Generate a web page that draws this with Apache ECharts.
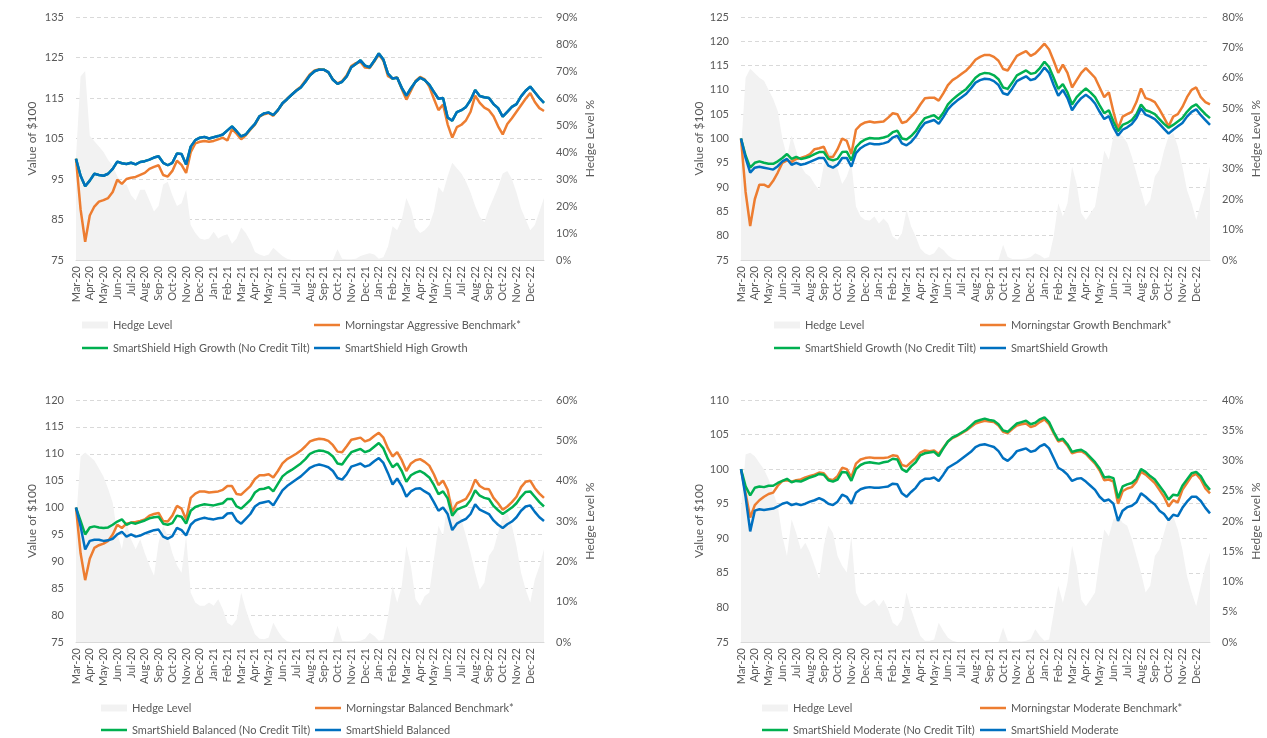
<!DOCTYPE html>
<html>
<head>
<meta charset="utf-8">
<script src="https://cdn.jsdelivr.net/npm/echarts@6/dist/echarts.min.js"></script>
<style>
  html, body { margin: 0; padding: 0; background: #fff; }
  #chart { width: 1267px; height: 738px; }
</style>
</head>
<body>
<div id="chart"></div>
<script>
// month tick labels, three readings per month (1st, 11th, 21st) plus the last day
const months = ['Mar-20','Apr-20','May-20','Jun-20','Jul-20','Aug-20','Sep-20','Oct-20','Nov-20','Dec-20',
  'Jan-21','Feb-21','Mar-21','Apr-21','May-21','Jun-21','Jul-21','Aug-21','Sep-21','Oct-21','Nov-21','Dec-21',
  'Jan-22','Feb-22','Mar-22','Apr-22','May-22','Jun-22','Jul-22','Aug-22','Sep-22','Oct-22','Nov-22','Dec-22'];
const categories = [];
months.forEach(m => categories.push(m, m + ' (2)', m + ' (3)'));
categories.push('end');

// ---- High Growth ----
const hgHedge = [38,68,70,46,44,42,40,37,35,31, 28,28,24,22,26,26,22,18,20,28,
  29,24,20,21,26,13,10,8,7.5,8, 10.5,8,9,9.5,6,8,12,10,7,3,
  2,1.5,2,4.5,3,1.5,0.5,0,0,0, 0,0,0,0,0,0,0,4,0.5,0.3,
  0.3,0.5,1.5,2,2.5,2,0.5,1,5,12.5, 11,15,23,19,12,10,11,13,18,27,
  25,31,36,34,32,29,25,20,16,14, 19,23,27,32,33,30,25,19,15,11, 13,18,23];
const hgBench = [100,87.5,79.5,86.0,88.2,89.4,89.8,90.3,91.8,94.8, 93.8,95.0,95.3,95.5,96.0,96.5,97.5,98.0,98.4,96.0,
  95.6,97.0,99.5,98.5,96.5,101.6,103.8,104.2,104.4,104.2, 104.4,104.8,105.2,104.5,107.3,106.2,104.8,105.8,107.2,108.4,
  110.4,111.0,111.3,110.6,112.0,113.6,114.8,115.8,116.9,117.8, 119.3,120.9,121.8,122.1,122.0,121.3,119.6,118.6,119.2,120.6,
  122.9,123.6,123.9,122.5,122.4,124.0,125.8,124.2,120.4,119.8, 120.1,117.2,114.6,116.8,119.2,120.2,119.6,117.8,114.8,112.0,
  113.4,108.5,105.2,107.8,108.4,109.5,111.6,115.6,113.8,112.6, 112.0,110.5,108.0,106.0,108.6,110.0,111.6,113.2,114.8,116.2,
  114.0,112.5,111.8];
const hgSmart = [100,95.8,93.2,94.6,96.3,96.0,95.8,96.3,97.5,99.3, 98.9,98.7,99.0,98.6,99.2,99.4,99.8,100.3,100.6,99.0,
  98.4,99.0,101.3,101.2,98.6,103.0,104.6,105.2,105.4,105.0, 105.3,105.6,106.0,107.0,108.0,106.8,105.5,106.0,107.4,108.6,
  110.5,111.2,111.4,110.8,112.0,113.7,114.7,115.8,116.8,117.6, 119.0,120.6,121.6,122.0,122.0,121.4,119.5,118.5,119.0,120.3,
  122.6,123.4,124.3,123.0,122.6,124.2,126.0,124.5,121.0,119.8, 120.0,117.5,115.6,117.4,119.0,120.0,119.4,118.3,116.5,114.8,
  115.0,110.2,109.4,111.5,112.0,112.8,114.5,117.0,115.5,115.2, 115.0,113.5,112.5,110.4,111.6,112.8,113.5,115.4,116.8,117.8,
  116.4,115.0,113.8];
const hgNoTilt = hgSmart; // hidden under the SmartShield line in the original

// ---- Growth ----
const grHedge = [36,60,63,61.5,60,59,56,53,49,40, 34,41,36,31,28.6,27.5,25,23,31,36,
  35,30,25,27.5,32,17.6,14.3,13.2,13,14.3, 12,13.7,12,7.7,6.6,8.8,16.5,11,7.7,3.8,
  2.2,1.6,2.2,4.4,3.3,1.6,0.5,0,0,0, 0,0,0,0,0,0,0,5,1,0.3,
  0.3,0.3,0.5,1,2.2,1.6,0.5,1,7.7,18.7, 14.3,18.7,30.8,25,15.4,13.2,15.4,17.6,26.4,36,
  33,40.7,41.8,40.7,38.5,34,28.6,23,17.6,19.8, 27.5,29.7,36,40.7,41.8,37.4,30.8,23,18.7,13.2, 18.7,24,30.8];
const grBench = [100,89.0,82.0,87.5,90.5,90.5,90.0,91.3,93.0,95.0, 95.5,95.2,95.8,96.0,96.3,96.8,97.8,98.0,98.3,96.2,
  96.2,97.8,100.0,99.5,96.8,101.8,102.8,103.3,103.5,103.3, 103.4,103.5,104.3,105.2,105.0,103.2,103.5,104.5,105.5,107.0,
  108.3,108.4,108.4,107.8,109.3,111.0,112.0,112.6,113.3,114.0, 115.0,116.2,116.8,117.2,117.2,116.8,116.0,114.3,114.0,115.5,
  117.0,117.5,118.0,117.0,117.5,118.5,119.5,118.3,116.0,113.5, 115.2,113.5,110.5,112.0,113.5,114.5,113.5,112.5,110.5,108.5,
  109.5,105.5,102.0,104.5,105.0,105.5,107.5,110.3,108.3,108.0, 107.5,106.0,104.3,102.5,104.5,105.0,106.5,108.5,110.0,110.5,
  108.5,107.5,107.0];
const grNoTilt = [100,96.5,94.0,95.0,95.3,95.0,94.8,94.8,95.3,96.0, 96.8,95.8,96.2,95.8,96.0,96.3,96.8,97.2,97.2,95.8,
  95.5,95.8,97.2,97.3,95.5,98.2,99.2,99.8,100.1,100.0, 100.0,100.2,100.5,101.3,101.6,100.0,99.8,100.5,101.5,103.0,
  104.2,104.5,104.8,104.0,105.3,107.0,108.0,108.8,109.5,110.2, 111.3,112.5,113.2,113.5,113.4,113.0,112.2,110.5,110.2,111.5,
  113.0,113.5,114.0,113.3,113.5,114.5,115.8,114.7,112.5,110.2, 111.2,109.5,107.0,108.5,109.5,110.3,109.5,108.5,106.8,105.2,
  105.8,103.5,101.5,102.8,103.2,103.8,105.0,107.0,105.8,105.5, 105.0,104.0,103.0,102.2,102.8,103.5,104.2,105.5,106.5,107.0,
  106.0,105.0,104.2];
const grSmart = [100,96.0,93.0,94.0,94.2,94.0,93.8,93.6,94.3,95.3, 95.8,94.6,95.0,94.6,94.8,95.2,95.6,96.0,96.0,94.4,
  94.0,94.6,96.0,96.0,94.2,97.0,98.0,98.6,99.0,98.8, 98.8,99.0,99.3,100.2,100.6,99.0,98.6,99.3,100.4,102.0,
  103.2,103.5,103.8,103.0,104.4,106.0,107.0,107.8,108.5,109.2, 110.3,111.5,112.0,112.3,112.2,111.8,111.0,109.3,109.0,110.3,
  111.8,112.3,112.8,112.0,112.3,113.3,114.6,113.5,111.0,108.8, 110.0,108.3,105.8,107.2,108.3,109.0,108.3,107.2,105.5,104.0,
  104.6,102.3,100.6,101.8,102.3,103.0,104.2,106.2,104.9,104.5, 104.0,103.0,102.0,101.0,101.8,102.5,103.2,104.5,105.5,106.0,
  104.8,103.8,102.8];

// ---- Balanced ----
const baHedge = [30,46,47,46,45,43,41,38,34.5,27, 23,29.6,25.5,23,25.5,22,19,16.4,24.6,28.8,
  26.3,22,19,17.2,26.3,12.2,9.8,9,9,9.8, 9,10.6,8.1,4.8,4,5.6,12.2,8.1,4.8,1.9,
  0.8,0.7,1.1,4.8,2.7,1.1,0.2,0,0,0, 0,0,0,0,0,0,0,4,0.3,0.2,
  0.2,0.2,0.3,0.8,2.3,1.5,0.3,0.6,6.4,13.9, 9.8,13.9,23.8,18.8,10.6,9,11.4,12.2,20.5,28.8,
  26.3,35.4,35.4,32.9,30.4,26.3,22,17.2,13,14.7, 21.3,23,27,31.2,32,28.8,23.8,17.2,13,9.8, 15.5,18.8,23];
const baBench = [100,91.5,86.5,90.5,92.5,93.0,93.3,93.8,95.0,96.8, 96.2,97.0,97.2,97.3,97.5,97.8,98.5,98.8,99.0,97.5,
  97.4,98.5,100.3,99.8,97.8,101.8,102.6,103.0,103.0,102.8, 102.9,103.0,103.3,104.0,104.0,102.5,102.4,103.2,104.0,105.3,
  106.0,106.0,106.2,105.6,106.8,108.2,109.0,109.5,110.0,110.6, 111.4,112.3,112.6,112.8,112.7,112.4,111.6,110.4,110.3,111.4,
  112.6,112.8,113.0,112.3,112.6,113.3,113.9,113.0,111.0,109.5, 110.3,108.8,106.8,108.2,108.8,109.0,108.5,107.8,106.2,104.2,
  105.0,103.3,99.2,100.8,101.2,101.6,103.0,105.2,104.0,103.5, 103.4,101.8,100.8,99.6,100.2,101.0,102.0,103.8,104.8,105.0,
  103.6,102.6,101.8];
const baNoTilt = [100,97.5,95.0,96.3,96.5,96.3,96.2,96.3,96.8,97.4, 97.8,96.8,97.2,97.0,97.3,97.6,98.0,98.2,98.3,97.0,
  96.8,97.1,98.5,98.3,97.0,99.4,100.1,100.4,100.6,100.5, 100.4,100.6,100.8,101.6,101.6,100.2,99.8,100.6,101.4,102.8,
  103.4,103.5,103.8,103.0,104.4,105.8,106.5,107.0,107.6,108.2, 109.0,110.0,110.4,110.6,110.5,110.2,109.5,108.2,108.0,109.2,
  110.3,110.6,110.9,110.3,110.6,111.3,112.0,111.0,109.0,107.5, 108.2,106.8,104.8,106.0,106.5,106.8,106.3,105.6,104.2,102.5,
  103.0,101.7,98.5,99.6,100.0,100.3,101.4,103.2,102.2,101.8, 101.6,100.3,99.5,98.8,99.4,100.0,100.8,102.0,102.9,103.0,
  102.0,101.0,100.2];
const baSmart = [100,96.5,92.2,93.8,94.0,94.0,93.8,93.9,94.2,95.0, 95.5,94.6,95.0,94.6,94.8,95.2,95.5,95.8,95.9,94.6,
  94.2,94.7,96.2,95.8,94.8,96.8,97.6,97.9,98.1,97.9, 97.8,98.0,98.1,98.9,99.0,97.6,97.0,97.9,98.8,100.2,
  100.8,101.0,101.2,100.4,101.8,103.2,104.0,104.6,105.2,105.8, 106.6,107.4,107.8,108.0,107.8,107.5,106.8,105.5,105.2,106.2,
  107.6,107.9,108.2,107.6,107.9,108.6,109.2,108.3,106.4,104.3, 105.4,104.0,102.0,103.0,103.5,103.6,103.0,102.5,101.0,99.4,
  100.0,98.8,95.8,97.0,97.5,97.9,98.8,100.6,99.6,99.2, 98.8,97.6,96.8,96.2,96.9,97.4,98.2,99.4,100.2,100.4,
  99.2,98.2,97.5];

// ---- Moderate ----
const moHedge = [22,31,31.3,30.7,29.6,28.5,26.9,24.7,22.5,17.5, 14.2,20.3,18,15.3,16.4,14.8,12.6,10.4,15.9,19.2,
  18,14.2,12.6,11.5,17.5,8.2,6.5,5.9,6.5,7, 5.9,7,5.4,3.2,2.6,3.7,8.2,5.4,3.2,1,
  0.2,0.2,0.4,3.2,1.8,0.7,0.2,0,0,0, 0,0,0,0,0,0,0,2.4,0.2,0.1,
  0.1,0.1,0.2,0.5,2.1,1,0.2,0.4,4.8,9.3, 6.5,9.8,15.9,12.6,7,5.9,7,8.2,13.7,18.6,
  17.5,20.3,20.8,19.7,19.2,17,14.2,11.5,8.2,9.3, 14.2,15.3,18,20.6,20.8,18.6,15.3,10.9,8.2,5.9, 9.3,12.6,14.8];
const moBench = [100,96.5,93.0,94.8,95.5,96.0,96.4,96.6,97.6,98.3, 98.4,98.2,98.4,98.5,98.8,99.0,99.2,99.5,99.4,98.6,
  98.4,99.0,100.2,100.0,98.8,100.8,101.4,101.6,101.7,101.6, 101.6,101.6,101.7,102.0,101.9,100.6,100.4,101.0,101.6,102.4,
  102.7,102.6,102.7,102.2,103.1,104.0,104.5,104.8,105.2,105.6, 106.1,106.6,106.8,107.0,106.9,106.8,106.3,105.4,105.2,105.8,
  106.3,106.5,106.6,106.1,106.3,106.8,107.2,106.5,105.2,104.0, 104.2,103.4,102.3,102.5,102.6,102.2,101.5,100.8,99.8,98.4,
  98.5,98.2,95.0,96.8,97.2,97.4,98.2,99.6,99.2,98.6, 98.0,97.0,96.0,94.6,95.5,95.2,97.0,98.0,99.0,99.3,
  98.5,97.2,96.5];
const moNoTilt = [100,97.5,96.2,97.3,97.5,97.4,97.6,97.6,98.0,98.3, 98.6,98.1,98.3,98.2,98.5,98.8,99.0,99.3,99.2,98.4,
  98.2,98.5,99.6,99.5,98.3,100.0,100.6,100.9,101.0,100.9, 100.8,101.0,101.1,101.5,101.4,100.0,99.6,100.4,101.0,102.0,
  102.3,102.4,102.5,101.9,103.0,104.0,104.6,104.9,105.3,105.7, 106.3,106.9,107.1,107.3,107.1,107.0,106.5,105.6,105.4,106.0,
  106.6,106.8,107.0,106.5,106.7,107.2,107.5,106.8,105.4,104.2, 104.4,103.6,102.5,102.7,102.8,102.4,101.7,101.0,100.1,98.8,
  98.9,98.7,95.8,97.5,97.8,98.0,98.6,100.0,99.6,99.0, 98.5,97.6,96.7,95.6,96.3,96.2,97.6,98.5,99.4,99.6,
  99.0,97.8,97.0];
const moSmart = [100,96.0,91.0,94.0,94.2,94.1,94.2,94.3,94.6,95.0, 95.2,94.8,95.0,94.8,95.0,95.3,95.5,95.8,95.5,95.0,
  94.8,95.3,96.3,96.0,95.0,96.6,97.1,97.3,97.4,97.3, 97.3,97.4,97.5,97.9,97.8,96.5,96.0,96.7,97.3,98.2,
  98.6,98.6,98.8,98.3,99.2,100.2,100.6,101.0,101.5,102.0, 102.5,103.2,103.5,103.6,103.4,103.2,102.6,101.6,101.2,101.8,
  102.6,102.8,103.0,102.5,102.7,103.3,103.6,103.0,101.6,100.2, 99.8,99.2,98.3,98.6,98.7,98.2,97.6,97.0,96.0,95.4,
  95.6,95.0,92.5,94.0,94.5,94.7,95.2,96.5,96.0,95.4, 94.9,94.0,93.5,92.6,93.4,93.2,94.4,95.3,96.0,96.0,
  95.4,94.4,93.6];

const panels = [
  { grid: { left: 76, top: 17, width: 468, height: 243 }, y: [75, 135, 10], h: [0, 90, 10],
    names: ['Hedge Level', 'Morningstar Aggressive Benchmark*', 'SmartShield High Growth (No Credit Tilt)', 'SmartShield High Growth'],
    data: [hgHedge, hgBench, hgNoTilt, hgSmart], legendX: [82, 314], legendY: [325, 348] },
  { grid: { left: 741, top: 17, width: 469, height: 243 }, y: [75, 125, 5], h: [0, 80, 10],
    names: ['Hedge Level', 'Morningstar Growth Benchmark*', 'SmartShield Growth (No Credit Tilt)', 'SmartShield Growth'],
    data: [grHedge, grBench, grNoTilt, grSmart], legendX: [774, 980], legendY: [325, 348] },
  { grid: { left: 76, top: 400, width: 468, height: 242 }, y: [75, 120, 5], h: [0, 60, 10],
    names: ['Hedge Level', 'Morningstar Balanced Benchmark*', 'SmartShield Balanced (No Credit Tilt)', 'SmartShield Balanced'],
    data: [baHedge, baBench, baNoTilt, baSmart], legendX: [101, 315], legendY: [708, 730] },
  { grid: { left: 741, top: 400, width: 469, height: 242 }, y: [75, 110, 5], h: [0, 40, 5],
    names: ['Hedge Level', 'Morningstar Moderate Benchmark*', 'SmartShield Moderate (No Credit Tilt)', 'SmartShield Moderate'],
    data: [moHedge, moBench, moNoTilt, moSmart], legendX: [762, 980], legendY: [708, 730] }
];

const FONT = 'Lato';
const TXT = '#595959';
const colors = ['#F2F2F2', '#ED7D31', '#00B050', '#0070C0'];

const option = {
  animation: false,
  backgroundColor: '#fff',
  textStyle: { fontFamily: FONT },
  grid: [], xAxis: [], yAxis: [], series: [], legend: []
};

panels.forEach((p, k) => {
  option.grid.push(Object.assign({ containLabel: false }, p.grid));
  option.xAxis.push({
    type: 'category', gridIndex: k, data: categories, boundaryGap: false,
    axisLine: { lineStyle: { color: '#D9D9D9', width: 1 } },
    axisTick: { show: false },
    axisLabel: {
      rotate: 90, margin: 6, fontSize: 11, color: TXT, fontFamily: FONT,
      interval: i => i % 3 === 0 && i < 102
    },
    splitLine: { show: false }
  });
  option.yAxis.push({
    type: 'value', gridIndex: k, min: p.y[0], max: p.y[1], interval: p.y[2],
    name: 'Value of $100', nameLocation: 'middle', nameRotate: 90, nameGap: k % 2 ? 36 : 38,
    nameTextStyle: { fontSize: 12, color: TXT, fontFamily: FONT },
    axisLine: { show: false }, axisTick: { show: false },
    axisLabel: { margin: 12, fontSize: 11, color: TXT, fontFamily: FONT },
    splitLine: { lineStyle: { color: '#D9D9D9', type: [4, 3], width: 1 } }
  });
  option.yAxis.push({
    type: 'value', gridIndex: k, position: 'right', min: p.h[0], max: p.h[1], interval: p.h[2],
    name: 'Hedge Level %', nameLocation: 'middle', nameRotate: 90, nameGap: 40,
    nameTextStyle: { fontSize: 12, color: TXT, fontFamily: FONT },
    axisLine: { show: false }, axisTick: { show: false },
    axisLabel: { margin: 12, fontSize: 11, color: TXT, fontFamily: FONT, formatter: '{value}%' },
    splitLine: { show: false }
  });

  option.series.push({
    name: p.names[0], type: 'line', xAxisIndex: k, yAxisIndex: k * 2 + 1,
    data: p.data[0], symbol: 'none', lineStyle: { width: 0 }, itemStyle: { color: colors[0] },
    areaStyle: { color: colors[0], opacity: 1 }, z: 1
  });
  for (let s = 1; s < 4; s++) {
    option.series.push({
      name: p.names[s], type: 'line', xAxisIndex: k, yAxisIndex: k * 2,
      data: p.data[s], symbol: 'none', itemStyle: { color: colors[s] },
      lineStyle: { width: 2.5, color: colors[s] }, z: 2 + s
    });
  }

  // legend: 2 x 2 layout under each panel
  const cells = [[0, 0, 0], [1, 1, 0], [2, 0, 1], [3, 1, 1]];
  cells.forEach(([s, col, row]) => {
    option.legend.push({
      data: [{ name: p.names[s], icon: 'rect' }],
      left: p.legendX[col], top: p.legendY[row] - 7,
      padding: 0, itemWidth: 26, itemHeight: s === 0 ? 7 : 2.5,
      selectedMode: false,
      textStyle: { fontSize: 11, color: TXT, fontFamily: FONT, lineHeight: 14 }
    });
  });
});

const chart = echarts.init(document.getElementById('chart'), null, { renderer: 'canvas' });
chart.setOption(option);
</script>
</body>
</html>
